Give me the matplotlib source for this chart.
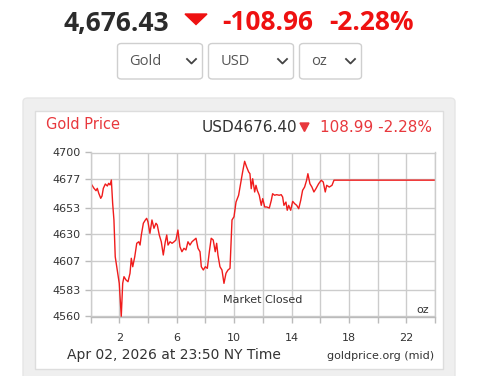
import matplotlib.pyplot as plt
from matplotlib.patches import FancyBboxPatch, Polygon, Rectangle
from matplotlib.lines import Line2D

# data (hours NY time, USD/oz)
hours = [0.04, 0.23, 0.37, 0.46, 0.56, 0.70, 0.79, 0.88, 1.02, 1.16, 1.25, 1.35,
         1.44, 1.53, 1.62, 1.71, 1.85, 1.99, 2.13, 2.23, 2.32, 2.46, 2.60, 2.74,
         2.83, 2.93, 3.07, 3.21, 3.35, 3.44, 3.53, 3.67, 3.81, 3.90, 3.99, 4.13,
         4.27, 4.41, 4.55, 4.64, 4.78, 4.92, 5.06, 5.20, 5.30, 5.39, 5.53, 5.67,
         5.81, 5.94, 6.08, 6.22, 6.36, 6.50, 6.64, 6.78, 6.92, 7.06, 7.20, 7.34,
         7.48, 7.62, 7.71, 7.85, 7.99, 8.13, 8.27, 8.40, 8.54, 8.68, 8.78, 8.87,
         9.01, 9.15, 9.29, 9.43, 9.57, 9.71, 9.85, 9.99, 10.13, 10.31, 10.45, 10.59,
         10.73, 10.87, 11.01, 11.10, 11.19, 11.29, 11.43, 11.52, 11.61, 11.75,
         11.89, 11.99, 12.13, 12.27, 12.45, 12.59, 12.68, 12.82, 12.96, 13.14,
         13.28, 13.38, 13.47, 13.61, 13.70, 13.80, 13.94, 14.08, 14.22, 14.36,
         14.50, 14.64, 14.77, 14.91, 15.05, 15.14, 15.28, 15.42, 15.56, 15.70,
         15.89, 16.07, 16.21, 16.35, 16.45, 16.63, 16.82, 16.96, 24.0]
prices = [4673.1, 4669.4, 4667.4, 4669.4, 4665.2, 4660.9, 4662.9, 4669.4, 4673.1,
          4671.4, 4673.7, 4672.3, 4676.5, 4656.6, 4642.4, 4611.0, 4599.7, 4588.3,
          4560.0, 4588.3, 4594.0, 4591.2, 4589.7, 4596.9, 4609.7, 4602.5, 4611.0,
          4622.5, 4623.8, 4621.0, 4629.6, 4639.6, 4642.4, 4643.8, 4640.9, 4631.0,
          4642.4, 4635.3, 4639.6, 4638.1, 4629.6, 4623.8, 4612.5, 4623.8, 4629.6,
          4621.0, 4623.8, 4622.5, 4623.8, 4625.3, 4633.8, 4619.6, 4615.3, 4618.2,
          4616.8, 4623.8, 4621.0, 4623.8, 4625.3, 4626.8, 4618.2, 4615.3, 4602.5,
          4599.7, 4602.5, 4601.1, 4615.3, 4626.8, 4625.3, 4615.3, 4622.5, 4612.5,
          4602.5, 4599.7, 4588.3, 4596.9, 4599.7, 4601.1, 4642.4, 4645.2, 4657.7,
          4663.5, 4673.4, 4683.4, 4692.5, 4687.6, 4683.4, 4681.9, 4669.1, 4677.6,
          4666.3, 4672.0, 4667.7, 4663.5, 4654.9, 4660.6, 4653.5, 4653.5, 4652.6,
          4659.2, 4664.8, 4663.5, 4664.0, 4663.5, 4664.0, 4662.0, 4654.9, 4657.7,
          4650.7, 4654.9, 4650.7, 4658.3, 4656.3, 4654.9, 4652.0, 4659.2, 4667.7,
          4670.5, 4676.3, 4681.9, 4673.4, 4670.5, 4666.3, 4669.1, 4673.4, 4676.3,
          4674.8, 4666.3, 4672.0, 4670.5, 4672.0, 4676.4, 4676.4]

y_ticks = [4560, 4583, 4607, 4630, 4653, 4677, 4700]
x_ticks = list(range(0, 25, 2))
x_labels = ['', '2', '', '6', '', '10', '', '14', '', '18', '', '22', '']

W, H = 486, 376
fig = plt.figure(figsize=(W / 100, H / 100), dpi=100, facecolor='white')


def fx(px):
    return px / W


def fy(py):
    return 1 - py / H


# header line
red = '#ee1111'
fig.text(fx(116), fy(23), '4,676.43', family='Open Sans', weight='bold', fontsize=19,
         color='#2b2b2b', ha='center', va='center')
fig.patches.append(Polygon([(fx(185), fy(14)), (fx(207), fy(14)), (fx(196), fy(24.5))],
                           closed=True, transform=fig.transFigure, color=red))
fig.text(fx(267.5), fy(23), '-108.96', family='Open Sans', weight='bold', fontsize=19,
         color=red, ha='center', va='center')
fig.text(fx(372), fy(23), '-2.28%', family='Open Sans', weight='bold', fontsize=19,
         color=red, ha='center', va='center')

# dropdowns
for x0, x1, label in [(117.5, 202.5, 'Gold'), (208.5, 293.5, 'USD'), (299.5, 361.5, 'oz')]:
    fig.patches.append(FancyBboxPatch((fx(x0), fy(79)), fx(x1 - x0), (79 - 43.5) / H,
                                      boxstyle='round,pad=0,rounding_size=0.008',
                                      transform=fig.transFigure, facecolor='white',
                                      edgecolor='#cfcfcf', linewidth=1))
    fig.text(fx(x0 + 12), fy(61.5), label, family='Open Sans', fontsize=10.5,
             color='#555555', ha='left', va='center')
    cx = x1 - 11
    fig.lines.append(Line2D([fx(cx - 4.5), fx(cx), fx(cx + 4.5)], [fy(59), fy(63.5), fy(59)],
                            transform=fig.transFigure, color='#444444', linewidth=1.3))

# chart panels
fig.patches.append(FancyBboxPatch((fx(23), fy(380)), fx(432), (380 - 98) / H,
                                  boxstyle='round,pad=0,rounding_size=0.01',
                                  transform=fig.transFigure, facecolor='#efefef',
                                  edgecolor='#e6e6e6', linewidth=1, zorder=-2))
fig.patches.append(Rectangle((fx(34.5), fy(369)), fx(408.5), (369 - 110.5) / H,
                             transform=fig.transFigure, facecolor='white',
                             edgecolor='#dddddd', linewidth=1, zorder=-1))

fig.text(fx(46), fy(125), 'Gold Price', fontsize=10.5, color='#e8383d',
         ha='left', va='center')
fig.text(fx(297), fy(127), 'USD4676.40', fontsize=11, color='#333333',
         ha='right', va='center')
fig.patches.append(Polygon([(fx(300), fy(123)), (fx(309), fy(123)), (fx(304.5), fy(131.5))],
                           closed=True, transform=fig.transFigure, color='#e8383d'))
fig.text(fx(432), fy(127), '108.99 -2.28%', fontsize=11, color='#e8383d',
         ha='right', va='center')

ax = fig.add_axes([fx(90.7), 1 - 316.5 / H, fx(435 - 90.7), (316.5 - 152.5) / H])
ax.set_zorder(5)
ax.plot(hours, prices, color='#f01c1c', linewidth=1.0)
ax.set_xlim(0, 24)
ax.set_ylim(4560, 4700)
ax.set_xticks(x_ticks)
ax.set_xticklabels(x_labels)
ax.set_yticks(y_ticks)
ax.grid(True, color='#cccccc', linewidth=1)
ax.set_axisbelow(True)
for s in ax.spines.values():
    s.set_color('#cccccc')
    s.set_linewidth(1)
ax.spines['bottom'].set_color('#bbbbbb')
ax.tick_params(colors='#bbbbbb', labelcolor='#333333', labelsize=8, length=4, width=1)
ax.tick_params(axis='x', pad=8)
ax.tick_params(axis='y', pad=3)

ax.text(0.5, 0.1, 'Market Closed', transform=ax.transAxes, fontsize=8, color='#333333',
        ha='center', va='center')
ax.text(0.965, 0.04, 'oz', transform=ax.transAxes, fontsize=8, color='#333333',
        ha='center', va='center')

fig.text(fx(67), fy(355), 'Apr 02, 2026 at 23:50 NY Time', fontsize=10, color='#333333',
         ha='left', va='center')
fig.text(fx(434), fy(356), 'goldprice.org (mid)', fontsize=8, color='#333333',
         ha='right', va='center')

fig.savefig('out.png', dpi=100, facecolor='white')
